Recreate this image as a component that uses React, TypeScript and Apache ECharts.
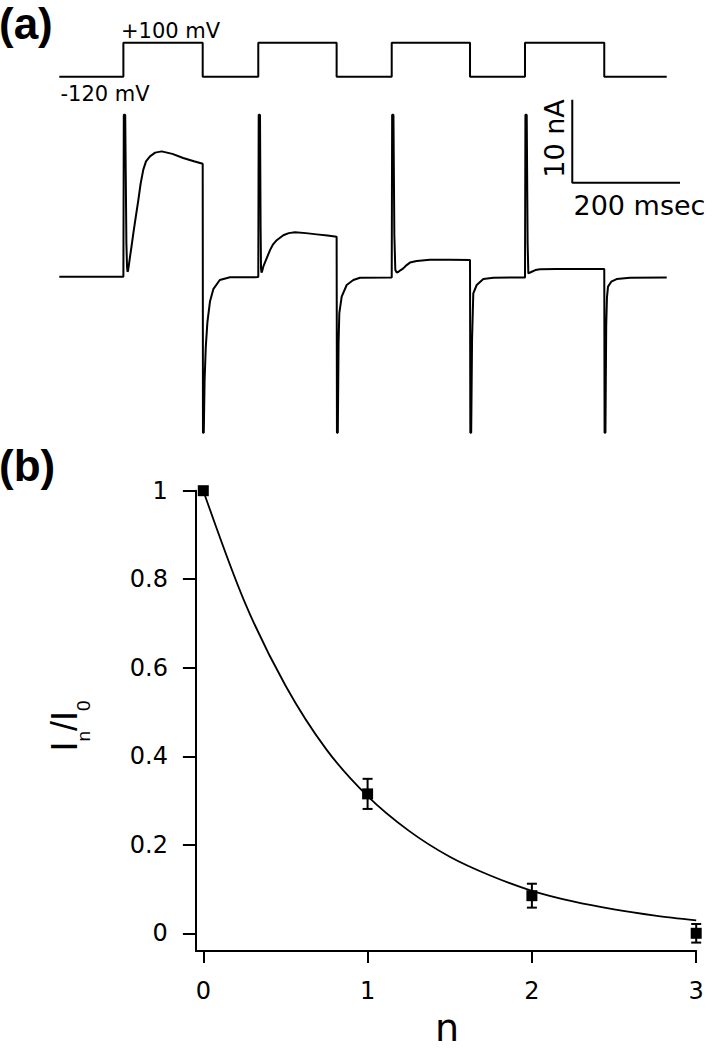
import React, { useEffect, useRef } from "react";
import * as echarts from "echarts";

// ---------- Panel (a): voltage protocol ----------
const holdingPotential = -120; // mV
const testPotential = 100; // mV
const pulseOnTimes = [119, 369.5, 617.3, 864.8]; // ms
const pulseOffTimes = [266.3, 515, 762.7, 1012]; // ms
const traceStart = 0;
const traceEnd = 1128;

// ---------- Panel (a): current trace (ms, nA) ----------
const currentBaseline = [[0, 0], [119, 0]];
const currentPulse1 = [
  [119, 0], [119.8, 19.5], [122.4, 19.5], [124.6, 4], [125.8, 1.2], [126.6, 0.6], [127.6, 0.7],
  [129, 1.3], [131.3, 2.4], [134, 3.6], [137.4, 5.2], [142, 7.2], [146.7, 9.2], [151, 11.2],
  [156, 12.9], [161, 13.9], [168.4, 14.5], [178, 14.95], [190, 15.1], [210, 14.8], [230, 14.3],
  [250, 13.9], [266.3, 13.6],
];
const currentTail1 = [
  [266.8, -18.8], [268.3, -18.8], [269.8, -12.5], [272, -8.5], [275, -5.5], [279.8, -3.0],
  [286, -1.5], [298, -0.4], [317, -0.07], [369.5, -0.05],
];
const currentPulse2 = [
  [370.3, 19.5], [372.7, 19.5], [373.8, 6], [374.6, 1.0], [375.5, 0.5], [376.8, 0.7], [378.8, 1.2],
  [385, 2.2], [391.3, 3.2], [397, 3.9], [403.7, 4.4], [416, 5.0], [426, 5.25],
  [437.7, 5.35], [458, 5.25], [478, 5.1], [498, 4.95], [515, 4.8],
];
const currentTail2 = [
  [515.6, -18.8], [517.2, -18.8], [518.6, -8], [520, -4.4], [524.4, -2.4], [533.7, -1.0],
  [546, -0.4], [558.4, -0.12], [617.3, -0.1],
];
const currentPulse3 = [
  [618.1, 19.5], [620.5, 19.5], [622.2, 5], [624, 0.8], [626.6, 0.5], [630, 0.6], [634, 0.8],
  [638.8, 1.0], [645, 1.4], [651.2, 1.7], [663.6, 1.9], [688.4, 2.05], [725, 2.05], [762.7, 2.0],
];
const currentTail3 = [
  [763.3, -18.8], [764.9, -18.8], [766.5, -7.6], [768.8, -2.0], [775.1, -1.0],
  [787.4, -0.28], [806, -0.12], [864.8, -0.1],
];
const currentPulse4 = [
  [865.6, 19.5], [868, 19.5], [869.7, 4], [871, 0.4], [874, 0.5], [877.3, 0.6],
  [884, 0.8], [892.7, 0.9], [923.7, 0.93], [1012, 0.93],
];
const currentTail4 = [
  [1012.6, -18.8], [1014.2, -18.8], [1015.6, -6], [1017, -2.5], [1019, -1.2], [1025, -0.6],
  [1035, -0.28], [1060, -0.12], [1128, -0.1],
];

// scale bar
const scaleBarTime = 200; // ms
const scaleBarCurrent = 10; // nA

// ---------- Panel (b) ----------
const nValues = [0, 1, 2, 3];
const ratioMean = [1.0, 0.315, 0.085, 0.0];
const ratioErr = [0, 0.034, 0.027, 0.021];
const fitN = [0, 0.25, 0.5, 0.75, 1, 1.25, 1.5, 1.75, 2, 2.25, 2.5, 2.75, 3];
const fitRatio = [1.0, 0.75, 0.56, 0.415, 0.31, 0.232, 0.173, 0.13, 0.096, 0.072, 0.054, 0.04, 0.029];
const xTickValues = [0, 1, 2, 3];
const yTickValues = [0, 0.2, 0.4, 0.6, 0.8, 1];

const REG = "DejaVu Sans";
const ARIAL = "Liberation Sans";

export default function App() {
  const ref = useRef<HTMLDivElement>(null);
  useEffect(() => {
    document.body.style.margin = "0";
    if (!ref.current) return;
    const chart = echarts.init(ref.current, undefined, { renderer: "svg" });

    const voltageData: number[][] = [[traceStart, holdingPotential]];
    pulseOnTimes.forEach((on, i) => {
      const off = pulseOffTimes[i];
      voltageData.push([on, holdingPotential], [on, testPotential], [off, testPotential], [off, holdingPotential]);
    });
    voltageData.push([traceEnd, holdingPotential]);

    const currentData = [
      ...currentBaseline, ...currentPulse1, ...currentTail1, ...currentPulse2, ...currentTail2,
      ...currentPulse3, ...currentTail3, ...currentPulse4, ...currentTail4,
    ];

    const sbT = 952.6;
    const sbI = 11.33;
    const scaleBarData = [[sbT, sbI + scaleBarCurrent], [sbT, sbI], [sbT + scaleBarTime, sbI]];

    const errData = nValues
      .map((n, i) => [n, ratioMean[i] - ratioErr[i], ratioMean[i] + ratioErr[i]])
      .filter((d, i) => ratioErr[i] > 0);

    const black = "#000";
    const pxPerMs = 0.5385;
    const aLeft = 59.3;
    const aWidth = 1200 * pxPerMs;

    chart.setOption({
      animation: false,
      backgroundColor: "#fff",
      grid: [
        { left: aLeft, top: 42.7, width: aWidth, height: 34, outerBoundsMode: "none" },
        { left: aLeft, top: 94.1, width: aWidth, height: 348.6, outerBoundsMode: "none" },
        { left: 195.9, top: 490.7, width: 500.3, height: 460.3, outerBoundsMode: "none" },
      ],
      xAxis: [
        { gridIndex: 0, type: "value", min: 0, max: 1200, show: false },
        { gridIndex: 1, type: "value", min: 0, max: 1200, show: false },
        {
          gridIndex: 2, type: "value", min: -0.045, max: 3,
          axisLine: { show: true, onZero: false, lineStyle: { color: black, width: 2 } },
          axisTick: { show: true, inside: false, length: 12, customValues: xTickValues, lineStyle: { color: black, width: 2 } },
          axisLabel: { customValues: xTickValues, margin: 28, fontSize: 24, fontFamily: REG, color: black },
          splitLine: { show: false },
        },
      ],
      yAxis: [
        { gridIndex: 0, type: "value", min: holdingPotential, max: testPotential, show: false },
        { gridIndex: 1, type: "value", min: -20, max: 22, show: false },
        {
          gridIndex: 2, type: "value", min: -0.04, max: 1,
          axisLine: { show: true, onZero: false, lineStyle: { color: black, width: 2 } },
          axisTick: { show: true, inside: false, length: 13, customValues: yTickValues, lineStyle: { color: black, width: 2 } },
          axisLabel: { customValues: yTickValues, margin: 28, fontSize: 24, fontFamily: REG, color: black },
          splitLine: { show: false },
        },
      ],
      series: [
        {
          type: "line", xAxisIndex: 0, yAxisIndex: 0, data: voltageData, showSymbol: false, clip: false,
          lineStyle: { color: black, width: 2 }, silent: true,
        },
        {
          type: "line", xAxisIndex: 1, yAxisIndex: 1, data: currentData, showSymbol: false, clip: false,
          lineStyle: { color: black, width: 2 }, silent: true,
        },
        {
          type: "line", xAxisIndex: 1, yAxisIndex: 1, data: scaleBarData, showSymbol: false, clip: false,
          lineStyle: { color: black, width: 2 }, silent: true,
        },
        {
          type: "line", xAxisIndex: 2, yAxisIndex: 2, data: fitN.map((n, i) => [n, fitRatio[i]]),
          showSymbol: false, smooth: 0.3, clip: false, lineStyle: { color: black, width: 1.8 }, silent: true,
        },
        {
          type: "custom", xAxisIndex: 2, yAxisIndex: 2, data: errData, clip: false,
          encode: { x: 0, y: [1, 2] }, silent: true,
          renderItem: (params: any, api: any) => {
            const x = api.value(0);
            const pLo = api.coord([x, api.value(1)]);
            const pHi = api.coord([x, api.value(2)]);
            const w = 5;
            const st = { stroke: black, lineWidth: 2 };
            return {
              type: "group",
              children: [
                { type: "line", shape: { x1: pLo[0], y1: pLo[1], x2: pHi[0], y2: pHi[1] }, style: st },
                { type: "line", shape: { x1: pLo[0] - w, y1: pLo[1], x2: pLo[0] + w, y2: pLo[1] }, style: st },
                { type: "line", shape: { x1: pHi[0] - w, y1: pHi[1], x2: pHi[0] + w, y2: pHi[1] }, style: st },
              ],
            };
          },
        },
        {
          type: "scatter", xAxisIndex: 2, yAxisIndex: 2, data: nValues.map((n, i) => [n, ratioMean[i]]),
          symbol: "rect", symbolSize: 11, clip: false, itemStyle: { color: black, opacity: 1 }, z: 5, silent: true,
        },
      ],
      graphic: [
        { type: "text", x: -1, y: 23, style: { text: "(a)", fontSize: 44, fontWeight: "bold", fontFamily: ARIAL, fill: black, verticalAlign: "middle" } },
        { type: "text", x: -1, y: 465.5, style: { text: "(b)", fontSize: 44, fontWeight: "bold", fontFamily: ARIAL, fill: black, verticalAlign: "middle" } },
        { type: "text", x: 121, y: 31, style: { text: "+100 mV", fontSize: 21, fontFamily: REG, fill: black, verticalAlign: "middle" } },
        { type: "text", x: 60.5, y: 94, style: { text: "-120 mV", fontSize: 21, fontFamily: REG, fill: black, verticalAlign: "middle" } },
        { type: "text", x: 554, y: 138.5, rotation: Math.PI / 2, style: { text: "10 nA", fontSize: 27, fontFamily: REG, fill: black, align: "center", verticalAlign: "middle" } },
        { type: "text", x: 573.5, y: 205, style: { text: "200 msec", fontSize: 27, fontFamily: REG, fill: black, verticalAlign: "middle" } },
        {
          type: "text", x: 64, y: 726, rotation: Math.PI / 2,
          style: {
            text: "{a|I}{b|n}{a|/I}{b|0}", align: "center", verticalAlign: "middle", fill: black,
            rich: {
              a: { fontSize: 36, fontFamily: ARIAL, fill: black, lineHeight: 36 },
              b: { fontSize: 19, fontFamily: ARIAL, fill: black, lineHeight: 19, padding: [38, 0, 0, 0] },
            },
          },
        },
        { type: "text", x: 447, y: 1028, style: { text: "n", fontSize: 38, lineHeight: 28, fontFamily: REG, fill: black, align: "center", verticalAlign: "middle" } },
      ],
    });
    return () => chart.dispose();
  }, []);
  return <div ref={ref} style={{ position: "absolute", left: 0, top: 0, width: 712, height: 1050 }} />;
}
